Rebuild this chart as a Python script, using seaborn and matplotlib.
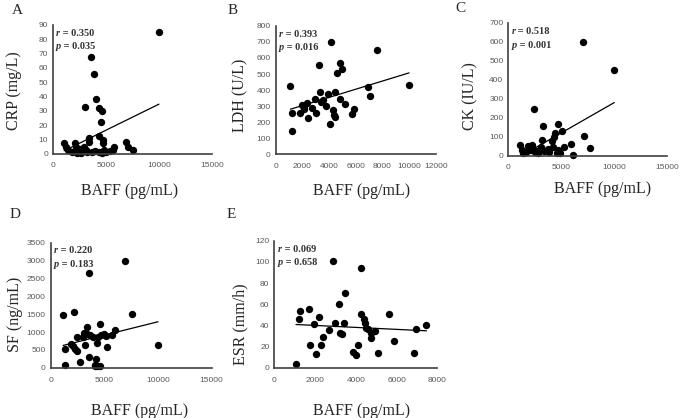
import matplotlib.pyplot as plt
import seaborn as sns
import numpy as np

# BAFF vs CRP
baff_a = [10000, 3550, 3900, 4100, 3000, 4350, 4600, 4500, 4300, 3400, 3380, 4700, 4750, 6900, 7100,
          7550, 5800, 1050, 1250, 1450, 2050, 2200, 1800, 2500, 2700, 2900, 3100, 2300, 3700, 4000,
          4300, 4600, 5000, 5400, 5700, 2600, 3200, 4800]
crp = [85, 67.5, 56, 38.6, 33, 32, 30, 22.5, 12.5, 11, 8.3, 10, 7.5, 8.3, 4.6,
       2.5, 4.6, 8, 5, 2.5, 7.5, 5, 1.5, 3.5, 2, 5, 2.5, 1, 1.5, 2,
       1.5, 1, 1.5, 2, 3, 0.8, 1.2, 2.5]

# BAFF vs LDH
baff_b = [10000, 4170, 7600, 3225, 4800, 5000, 4575, 1100, 6920, 7050, 1250, 1225, 1800, 1975, 2150,
          2325, 2100, 2400, 2720, 2925, 3000, 3320, 3400, 3525, 3800, 3900, 4075, 4300, 4375, 4475,
          4475, 4825, 5175, 5700, 5900]
ldh = [434, 700, 652, 557, 567, 532, 505, 424, 421, 363, 255, 145, 255, 309, 300,
       320, 285, 228, 287, 347, 259, 386, 328, 338, 300, 376, 191, 278, 247, 231,
       386, 345, 312, 249, 283]

# BAFF vs CK
baff_c = [10000, 7075, 2424, 3300, 4660, 5100, 4400, 4340, 7170, 7700, 5880, 5280, 6100, 4090, 3150,
          1100, 1260, 1410, 1830, 2200, 2360, 2680, 3080, 3400, 3710, 3880, 4560, 4870, 4710, 1670,
          2830, 4230, 2050, 2520]
ck = [453, 598, 247, 156, 167, 128, 119, 97, 104, 40, 62, 46, 5, 76, 81,
      58, 30, 12, 51, 58, 37, 26, 44, 26, 37, 19, 12, 12, 30, 19,
      14, 46, 30, 19]

# BAFF vs SF
baff_d = [10000, 6950, 3540, 7580, 1150, 2140, 4630, 3350, 5960, 5750, 4940, 4720, 5180, 4410, 3940,
          3660, 3380, 3100, 3010, 2480, 3220, 4350, 5220, 1360, 2080, 2230, 2450, 1920, 3540, 4250,
          2760, 1300, 4160, 4350, 4560, 4100]
sf = [644, 2988, 2652, 1504, 1467, 1560, 1232, 1148, 1064, 916, 945, 907, 880, 868, 868,
      907, 945, 980, 868, 868, 644, 700, 588, 532, 598, 523, 457, 663, 308, 252,
      160, 84, 84, 56, 56, 40]

# BAFF vs ESR
baff_e = [1063, 1195, 1260, 1685, 2175, 1945, 1765, 2045, 2290, 2370, 2680, 2890, 2975, 3170, 3220,
          3320, 3430, 3480, 3840, 4000, 4120, 4230, 4230, 4410, 4445, 4490, 4590, 4740, 4755, 4950,
          5080, 5640, 5850, 6830, 6940, 7465]
esr = [3.8, 46.3, 53.3, 55.8, 48.2, 41.3, 21.7, 12.9, 21.7, 29.3, 35.6, 100.8, 42, 60.2, 32.5,
       32, 42, 70.3, 15.1, 11.8, 21.7, 93.9, 51, 45.6, 42, 37.4, 36.4, 33, 28.4, 34.9,
       13.6, 51, 25.6, 13.6, 36.4, 40]

letters = ["A", "B", "C", "D", "E"]
ylabels = ["CRP (mg/L)", "LDH (U/L)", "CK (IU/L)", "SF (ng/mL)", "ESR (mm/h)"]
r_values = ["0.350", "0.393", "0.518", "0.220", "0.069"]
p_values = ["0.035", "0.016", "0.001", "0.183", "0.658"]
xs = [baff_a, baff_b, baff_c, baff_d, baff_e]
ys = [crp, ldh, ck, sf, esr]
x_max = [15000, 12000, 15000, 15000, 8000]
x_step = [5000, 2000, 5000, 5000, 2000]
y_max = [90, 800, 700, 3500, 120]
y_step = [10, 100, 100, 500, 20]

# layout (figure fractions)
rects = [[0.0774, 0.6316, 0.232, 0.3086],
         [0.4025, 0.6310, 0.2336, 0.3070],
         [0.7420, 0.6275, 0.2321, 0.3182],
         [0.0740, 0.1203, 0.2350, 0.2990],
         [0.4005, 0.1203, 0.2380, 0.3038]]
ylab_pos = [(-0.195, 0.49), (-0.173, 0.46), (-0.19, 0.45), (-0.172, 0.43), (-0.161, 0.344)]
xlab_pos = [(0.484, -0.225), (0.5375, -0.224), (0.596, -0.19), (0.555, -0.28), (0.536, -0.276)]
xtick_pad = [6, 6, 6, 7, 7]
letter_pos = [(12, 14), (228, 14), (455, 12), (10, 218), (227, 218)]

sns.set_style("white")
plt.rcParams['font.family'] = ['Liberation Serif', 'DejaVu Serif']

fig = plt.figure(figsize=(6.85, 4.18), dpi=100)

for i in range(5):
    ax = fig.add_axes(rects[i])
    sns.regplot(x=np.array(xs[i]), y=np.array(ys[i]), ax=ax, ci=None, color="black",
                scatter_kws={"s": 28, "linewidths": 0, "clip_on": False, "alpha": 1},
                line_kws={"lw": 0.9})
    ax.set_xlim(0, x_max[i])
    ax.set_ylim(0, y_max[i])
    ax.set_xticks(np.arange(0, x_max[i] + 1, x_step[i]))
    ax.set_yticks(np.arange(0, y_max[i] + 1, y_step[i]))
    sns.despine(ax=ax)
    for s in ["left", "bottom"]:
        ax.spines[s].set_color("#404040")
        ax.spines[s].set_linewidth(1.2)
    ax.tick_params(axis="both", length=0, labelsize=6, colors="#595959")
    ax.tick_params(axis="x", pad=xtick_pad[i])
    ax.tick_params(axis="y", pad=3.5)
    for lab in ax.get_xticklabels() + ax.get_yticklabels():
        lab.set_fontfamily("Liberation Sans")

    ax.set_xlabel("BAFF (pg/mL)", fontsize=11.5)
    ax.xaxis.set_label_coords(*xlab_pos[i])
    ax.set_ylabel(ylabels[i], fontsize=11.5)
    ax.yaxis.set_label_coords(*ylab_pos[i])

    # r / p annotation: italic letter, upright value
    for j, (sym, val) in enumerate([("r", r_values[i]), ("p", p_values[i])]):
        t = ax.text(0.02, 0.97 - j * 0.105, sym, transform=ax.transAxes, fontsize=7.5,
                    fontweight="bold", fontstyle="italic", color="#333333", va="top")
        ax.annotate(" = " + val, xy=(1, 0), xycoords=t, va="bottom", fontsize=7.5,
                    fontweight="bold", color="#333333")

    fig.text(letter_pos[i][0] / 685, 1 - letter_pos[i][1] / 418, letters[i], fontsize=11,
             ha="left", va="baseline")

plt.savefig("out.png", dpi=100)
plt.close()
